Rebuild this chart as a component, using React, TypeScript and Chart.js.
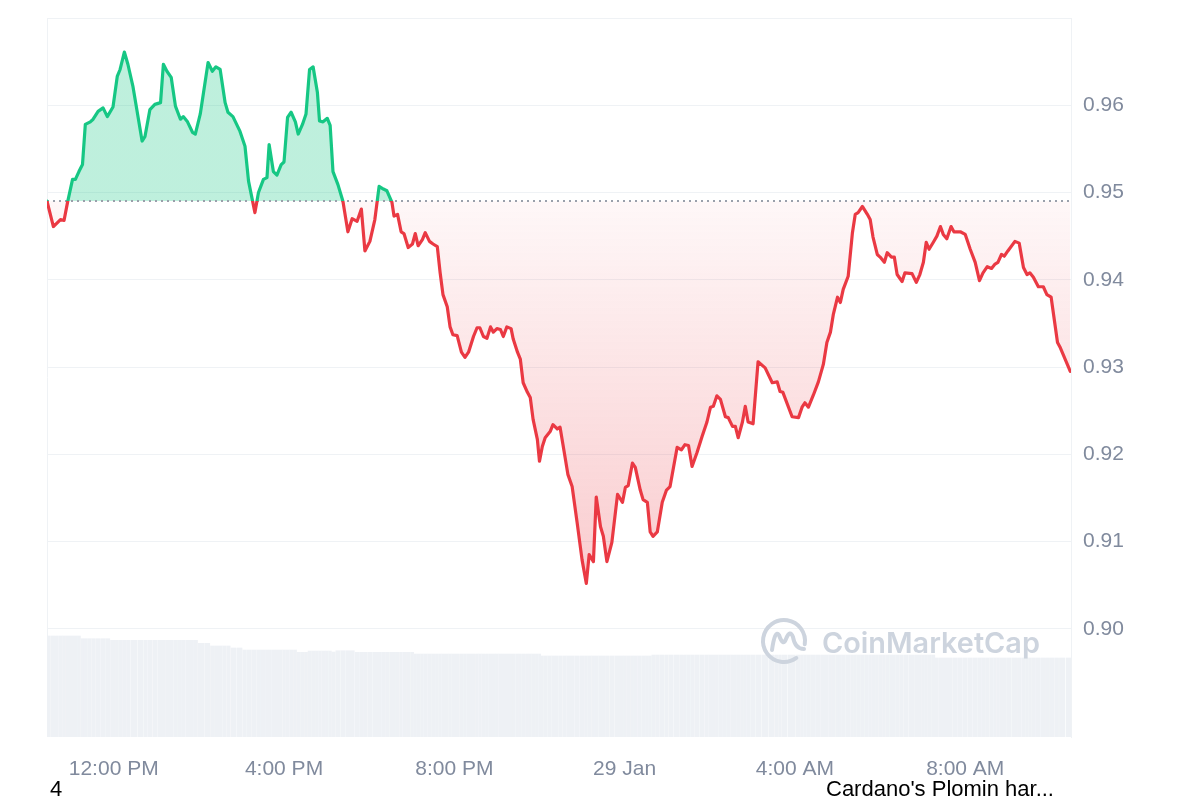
import { useEffect, useRef } from 'react';
import { Chart, registerables } from 'chart.js';

Chart.register(...registerables);

// minutes since 00:00 on 28 Jan
const TIMES = [
  626, 635, 640, 645, 650, 655, 662, 666, 671, 676,
  680, 687, 691, 698, 705, 711, 719, 725, 729, 735,
  740, 747, 760, 764, 771, 778, 786, 790, 795, 801,
  807, 814, 818, 824, 831, 835, 842, 853, 859, 864,
  870, 877, 881, 888, 898, 905, 910, 919, 924, 931,
  936, 939, 945, 950, 956, 960, 965, 970, 976, 980,
  986, 991, 996, 1001, 1007, 1010, 1015, 1021, 1025, 1029,
  1036, 1043, 1050, 1056, 1063, 1069, 1074, 1081, 1088, 1094,
  1100, 1105, 1112, 1115, 1120, 1125, 1129, 1135, 1141, 1145,
  1149, 1155, 1159, 1165, 1170, 1176, 1180, 1184, 1190, 1194,
  1198, 1204, 1210, 1215, 1220, 1227, 1232, 1236, 1241, 1246,
  1251, 1255, 1260, 1265, 1269, 1274, 1280, 1283, 1289, 1293,
  1297, 1303, 1307, 1311, 1317, 1320, 1324, 1328, 1335, 1339,
  1345, 1349, 1356, 1360, 1366, 1373, 1380, 1386, 1390, 1396,
  1400, 1406, 1410, 1415, 1422, 1430, 1437, 1441, 1445, 1451,
  1455, 1462, 1466, 1472, 1476, 1480, 1486, 1493, 1499, 1504,
  1514, 1520, 1525, 1530, 1535, 1542, 1549, 1556, 1561, 1565,
  1570, 1575, 1582, 1586, 1592, 1596, 1600, 1606, 1610, 1614,
  1621, 1628, 1638, 1648, 1655, 1659, 1663, 1676, 1685, 1690,
  1694, 1699, 1706, 1713, 1720, 1725, 1730, 1734, 1740, 1744,
  1748, 1755, 1761, 1765, 1769, 1775, 1782, 1786, 1790, 1796,
  1800, 1806, 1810, 1816, 1820, 1824, 1831, 1835, 1845, 1851,
  1856, 1861, 1865, 1869, 1875, 1880, 1885, 1889, 1894, 1900,
  1904, 1913, 1920, 1927, 1934, 1940, 1945, 1951, 1957, 1962,
  1966, 1971, 1975, 1980, 1990, 1996, 2002, 2007, 2011, 2016,
  2023, 2030, 2035, 2041, 2050, 2054, 2068,
];

const PRICES = [
  0.9490, 0.9461, 0.9465, 0.9469, 0.9468, 0.9489, 0.9515, 0.9515, 0.9524, 0.9532,
  0.9578, 0.9581, 0.9584, 0.9593, 0.9597, 0.9587, 0.9598, 0.9633, 0.9641, 0.9661,
  0.9647, 0.9622, 0.9559, 0.9564, 0.9595, 0.9601, 0.9603, 0.9647, 0.9639, 0.9632,
  0.9599, 0.9584, 0.9587, 0.9581, 0.9569, 0.9567, 0.9590, 0.9649, 0.9639, 0.9644,
  0.9641, 0.9603, 0.9592, 0.9587, 0.9570, 0.9553, 0.9513, 0.9477, 0.9500, 0.9515,
  0.9517, 0.9555, 0.9524, 0.9520, 0.9532, 0.9535, 0.9586, 0.9592, 0.9581, 0.9567,
  0.9578, 0.9590, 0.9641, 0.9644, 0.9615, 0.9582, 0.9581, 0.9585, 0.9577, 0.9524,
  0.9509, 0.9490, 0.9455, 0.9470, 0.9467, 0.9481, 0.9433, 0.9444, 0.9469, 0.9507,
  0.9504, 0.9502, 0.9489, 0.9473, 0.9475, 0.9455, 0.9453, 0.9437, 0.9441, 0.9453,
  0.9439, 0.9446, 0.9454, 0.9444, 0.9441, 0.9438, 0.9408, 0.9383, 0.9369, 0.9346,
  0.9337, 0.9336, 0.9317, 0.9311, 0.9317, 0.9335, 0.9345, 0.9345, 0.9335, 0.9333,
  0.9346, 0.9340, 0.9344, 0.9343, 0.9335, 0.9346, 0.9344, 0.9332, 0.9317, 0.9309,
  0.9282, 0.9271, 0.9265, 0.9240, 0.9217, 0.9192, 0.9209, 0.9219, 0.9226, 0.9234,
  0.9229, 0.9231, 0.9197, 0.9177, 0.9163, 0.9122, 0.9079, 0.9052, 0.9085, 0.9077,
  0.9151, 0.9117, 0.9106, 0.9077, 0.9099, 0.9154, 0.9145, 0.9162, 0.9164, 0.9190,
  0.9185, 0.9159, 0.9148, 0.9145, 0.9111, 0.9106, 0.9111, 0.9145, 0.9159, 0.9163,
  0.9208, 0.9205, 0.9211, 0.9210, 0.9186, 0.9202, 0.9220, 0.9237, 0.9254, 0.9255,
  0.9267, 0.9263, 0.9243, 0.9242, 0.9232, 0.9232, 0.9219, 0.9237, 0.9255, 0.9237,
  0.9235, 0.9306, 0.9299, 0.9282, 0.9283, 0.9272, 0.9271, 0.9243, 0.9242, 0.9254,
  0.9259, 0.9254, 0.9268, 0.9283, 0.9303, 0.9328, 0.9340, 0.9360, 0.9380, 0.9374,
  0.9389, 0.9404, 0.9454, 0.9475, 0.9477, 0.9484, 0.9475, 0.9469, 0.9449, 0.9429,
  0.9426, 0.9420, 0.9431, 0.9426, 0.9426, 0.9406, 0.9398, 0.9408, 0.9407, 0.9397,
  0.9406, 0.9420, 0.9443, 0.9435, 0.9443, 0.9450, 0.9461, 0.9452, 0.9447, 0.9461,
  0.9455, 0.9455, 0.9452, 0.9435, 0.9420, 0.9399, 0.9408, 0.9415, 0.9413, 0.9418,
  0.9420, 0.9429, 0.9427, 0.9433, 0.9444, 0.9442, 0.9414, 0.9406, 0.9408, 0.9403,
  0.9392, 0.9392, 0.9383, 0.9380, 0.9328, 0.9322, 0.9295,
];

const VOLUMES = [
  140.5, 140.5, 140.5, 140.5, 140.5, 140.5, 140.5, 140.5, 140.5, 136.7,
  136.7, 136.7, 136.7, 136.7, 136.7, 136.7, 134.5, 134.5, 134.5, 134.5,
  134.5, 134.5, 134.5, 134.5, 134.5, 134.5, 134.5, 134.5, 134.5, 134.5,
  134.5, 134.5, 134.5, 134.5, 134.5, 134.5, 130.3, 130.3, 126.6, 126.6,
  126.6, 126.6, 126.6, 123.8, 123.8, 121.0, 121.0, 121.0, 121.0, 121.0,
  121.0, 121.0, 121.0, 121.0, 121.0, 121.0, 121.0, 121.0, 121.0, 117.8,
  117.8, 117.8, 119.6, 119.6, 119.6, 119.6, 119.6, 119.6, 119.6, 118.2,
  120.0, 120.0, 120.0, 120.0, 117.8, 117.8, 117.8, 117.8, 117.8, 117.8,
  117.8, 117.8, 117.8, 117.8, 117.8, 117.8, 117.8, 117.8, 117.8, 115.4,
  115.4, 115.4, 115.4, 115.4, 115.4, 115.4, 115.4, 115.4, 115.4, 115.4,
  115.4, 115.4, 115.4, 115.4, 115.4, 115.4, 115.4, 115.4, 115.4, 115.4,
  115.4, 115.4, 115.4, 115.4, 115.4, 115.4, 115.4, 115.4, 115.4, 115.4,
  115.4, 115.4, 115.4, 115.4, 115.4, 115.4, 112.7, 112.7, 112.7, 112.7,
  112.7, 112.7, 112.7, 112.7, 112.7, 112.7, 112.7, 112.7, 112.7, 112.7,
  112.7, 112.7, 112.7, 112.7, 112.7, 112.7, 112.7, 112.7, 112.7, 112.7,
  112.7, 112.7, 112.7, 112.7, 112.7, 114.0, 114.0, 114.0, 114.0, 114.0,
  114.0, 114.0, 114.0, 114.0, 114.0, 114.0, 114.0, 114.0, 114.0, 114.0,
  114.0, 114.0, 114.0, 114.0, 114.0, 114.0, 114.0, 114.0, 114.0, 114.0,
  114.0, 114.0, 114.0, 114.0, 114.0, 114.0, 114.0, 114.0, 114.0, 114.0,
  114.0, 114.0, 114.0, 114.0, 114.0, 114.0, 114.0, 114.0, 114.0, 114.0,
  114.0, 114.0, 114.0, 114.0, 114.0, 114.0, 114.0, 114.0, 114.0, 114.0,
  114.0, 114.0, 114.0, 114.0, 114.0, 114.0, 114.0, 114.0, 114.0, 114.0,
  114.0, 114.0, 114.0, 114.0, 114.0, 109.9, 109.9, 109.9, 109.9, 109.9,
  109.9, 109.9, 109.9, 109.9, 109.9, 109.9, 109.9, 109.9, 109.9, 109.9,
  109.9, 109.9, 109.9, 109.9, 109.9, 109.9, 109.9, 109.9, 109.9, 109.9,
  109.9, 109.9, 109.9, 109.9, 109.9, 109.9, 109.9,
];

const BASELINE = 0.949;
const X_TICK_VALUES = [720, 960, 1200, 1440, 1680, 1920];
const X_TICK_LABELS = ['12:00 PM', '4:00 PM', '8:00 PM', '29 Jan', '4:00 AM', '8:00 AM'];
const Y_TICK_VALUES = [0.9, 0.91, 0.92, 0.93, 0.94, 0.95, 0.96, 0.97];
const Y_TICK_LABELS = ['0.90', '0.91', '0.92', '0.93', '0.94', '0.95', '0.96', ''];
const FOOTER_LEFT = '4';
const FOOTER_RIGHT = "Cardano's Plomin har...";
const WATERMARK = 'CoinMarketCap';

const GREEN = '#16c784';
const RED = '#ea3943';
const GRID = '#eff2f5';
const TICK = '#808a9d';
const FONT = '"Liberation Sans", Arial, Helvetica, sans-serif';

const framePlugin = {
  id: 'frame',
  beforeDatasetsDraw(chart: any) {
    const { ctx, chartArea } = chart;
    ctx.save();
    ctx.strokeStyle = GRID;
    ctx.lineWidth = 1;
    ctx.beginPath();
    ctx.moveTo(chartArea.left + 0.5, chartArea.top);
    ctx.lineTo(chartArea.left + 0.5, chartArea.bottom);
    ctx.stroke();
    ctx.restore();
  },
  beforeDatasetDraw(chart: any, args: any) {
    if (args.index !== 0) return;
    const { ctx, chartArea } = chart;
    const y = Math.round(chart.scales.y.getPixelForValue(BASELINE));
    ctx.save();
    ctx.strokeStyle = '#9aa0ab';
    ctx.lineWidth = 2;
    ctx.setLineDash([2, 4]);
    ctx.beginPath();
    ctx.moveTo(chartArea.left, y);
    ctx.lineTo(chartArea.right, y);
    ctx.stroke();
    ctx.restore();
  },
  afterDatasetsDraw(chart: any) {
    const { ctx, chartArea } = chart;
    const col = '#cdd4de';
    const cx = chartArea.right - 287;
    const cy = chartArea.bottom - 96;
    ctx.save();
    ctx.strokeStyle = col;
    ctx.lineWidth = 4;
    ctx.lineCap = 'round';
    ctx.lineJoin = 'round';
    ctx.beginPath();
    ctx.arc(cx, cy, 21, 0.3 * Math.PI, 2.05 * Math.PI);
    ctx.stroke();
    ctx.beginPath();
    ctx.moveTo(cx - 12, cy + 9);
    ctx.quadraticCurveTo(cx - 9, cy - 12, cx - 5, cy - 6);
    ctx.quadraticCurveTo(cx - 1, cy + 6, cx + 2, cy - 2);
    ctx.quadraticCurveTo(cx + 6, cy - 12, cx + 9, cy - 4);
    ctx.quadraticCurveTo(cx + 11, cy + 8, cx + 20, cy + 8);
    ctx.stroke();
    let size = 30;
    ctx.font = `600 ${size}px Inter, "Noto Sans", sans-serif`;
    const w = ctx.measureText(WATERMARK).width;
    size = (size * 218) / w;
    ctx.font = `600 ${size}px Inter, "Noto Sans", sans-serif`;
    ctx.fillStyle = col;
    ctx.textBaseline = 'alphabetic';
    ctx.textAlign = 'left';
    ctx.fillText(WATERMARK, chartArea.right - 249, chartArea.bottom - 84);
    ctx.restore();
  },
};

export default function App() {
  const canvasRef = useRef<HTMLCanvasElement | null>(null);

  useEffect(() => {
    document.documentElement.style.overflow = 'hidden';
    const canvas = canvasRef.current;
    if (!canvas) return;

    const lineBorder = (c: any) => {
      const chart = c.chart;
      const { chartArea, scales } = chart;
      if (!chartArea || !scales.y) return GREEN;
      const yb = scales.y.getPixelForValue(BASELINE);
      const h = chartArea.bottom - chartArea.top;
      const p = Math.min(Math.max((yb - chartArea.top) / h, 0), 1);
      const g = chart.ctx.createLinearGradient(0, chartArea.top, 0, chartArea.bottom);
      g.addColorStop(0, GREEN);
      g.addColorStop(p, GREEN);
      g.addColorStop(p, RED);
      g.addColorStop(1, RED);
      return g;
    };

    const lineFill = (c: any) => {
      const chart = c.chart;
      const { chartArea, scales } = chart;
      if (!chartArea || !scales.y) return 'rgba(22,199,132,0.28)';
      const yb = scales.y.getPixelForValue(BASELINE);
      const ylow = scales.y.getPixelForValue(0.905);
      const h = chartArea.bottom - chartArea.top;
      const p = Math.min(Math.max((yb - chartArea.top) / h, 0), 1);
      const pl = Math.min(Math.max((ylow - chartArea.top) / h, 0), 1);
      const g = chart.ctx.createLinearGradient(0, chartArea.top, 0, chartArea.bottom);
      g.addColorStop(0, 'rgba(22,199,132,0.28)');
      g.addColorStop(p, 'rgba(22,199,132,0.28)');
      g.addColorStop(p, 'rgba(234,57,67,0.04)');
      g.addColorStop(pl, 'rgba(234,57,67,0.26)');
      g.addColorStop(1, 'rgba(234,57,67,0.3)');
      return g;
    };

    const chart = new Chart(canvas, {
      type: 'line',
      data: {
        datasets: [
          {
            type: 'line',
            data: TIMES.map((t, i) => ({ x: t, y: PRICES[i] })),
            borderColor: lineBorder,
            backgroundColor: lineFill,
            borderWidth: 3.2,
            borderJoinStyle: 'round',
            borderCapStyle: 'round',
            pointRadius: 0,
            tension: 0,
            fill: { value: BASELINE },
            yAxisID: 'y',
            order: 0,
          } as any,
          {
            type: 'bar',
            data: TIMES.map((t, i) => ({ x: t, y: VOLUMES[i] })),
            backgroundColor: '#eef1f5',
            borderWidth: 0,
            barThickness: 'flex',
            barPercentage: 0.85,
            categoryPercentage: 1,
            yAxisID: 'yv',
            order: 1,
          } as any,
        ],
      },
      options: {
        responsive: false,
        maintainAspectRatio: false,
        animation: false,
        events: [],
        layout: { padding: { left: 39, top: 10, right: 0, bottom: 0 } },
        plugins: {
          legend: { display: false },
          tooltip: { enabled: false },
          title: { display: false },
        },
        scales: {
          x: {
            type: 'linear',
            min: 626,
            max: 2069,
            offset: false,
            grid: { display: false, drawTicks: false, offset: false },
            border: { display: false },
            afterBuildTicks: (scale: any) => {
              scale.ticks = X_TICK_VALUES.map((v) => ({ value: v }));
            },
            afterFit: (scale: any) => {
              scale.height = 41;
              scale.paddingLeft = 0;
              scale.paddingRight = 0;
            },
            ticks: {
              autoSkip: false,
              maxRotation: 0,
              padding: 20,
              color: TICK,
              font: { family: FONT, size: 21 },
              callback: (_v: any, i: number) => X_TICK_LABELS[i],
            },
          },
          y: {
            type: 'linear',
            position: 'right',
            min: 0.8876,
            max: 0.97,
            grid: { color: GRID, lineWidth: 1, drawTicks: false },
            border: { display: true, color: GRID },
            afterBuildTicks: (scale: any) => {
              scale.ticks = Y_TICK_VALUES.map((v) => ({ value: v }));
            },
            afterFit: (scale: any) => {
              scale.width = 121;
              scale.paddingTop = 0;
              scale.paddingBottom = 0;
            },
            ticks: {
              padding: 12,
              color: TICK,
              font: { family: FONT, size: 21 },
              callback: (_v: any, i: number) => Y_TICK_LABELS[i],
            },
          },
          yv: {
            type: 'linear',
            display: false,
            min: 0,
            max: 1000,
          },
        },
      } as any,
      plugins: [framePlugin],
    });

    return () => chart.destroy();
  }, []);

  const footerStyle: any = {
    position: 'absolute',
    top: 770,
    fontFamily: FONT,
    fontSize: 22,
    lineHeight: '22px',
    color: '#000',
    whiteSpace: 'nowrap',
  };

  return (
    <div style={{ position: 'relative', width: 1184, height: 792, overflow: 'visible' }}>
      <canvas ref={canvasRef} width={1184} height={770} style={{ display: 'block' }} />
      <div style={{ ...footerStyle, left: 42 }}>{FOOTER_LEFT}</div>
      <div style={{ ...footerStyle, left: 818 }}>{FOOTER_RIGHT}</div>
    </div>
  );
}
